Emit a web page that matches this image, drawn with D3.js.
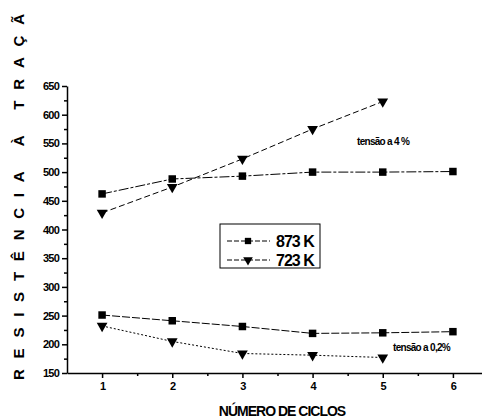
<!DOCTYPE html>
<html>
<head>
<meta charset="utf-8">
<script src="https://cdn.jsdelivr.net/npm/d3@7"></script>
<style>
  body { margin: 0; background: #fff; }
  text { font-family: "Liberation Sans", Arial, sans-serif; font-weight: bold; fill: #000; }
</style>
</head>
<body>
<div id="graph"></div>
<script>

//Chart data
var cycles = [1, 2, 3, 4, 5, 6];
var k873Strain4 = [462, 488, 493, 500, 500, 501];
var k723Strain4 = [429, 474, 523, 575, 623];
var k873Strain02 = [251, 241, 231, 219, 220, 222];
var k723Strain02 = [232, 205, 184, 181, 177];
var yTicks = [150, 200, 250, 300, 350, 400, 450, 500, 550, 600, 650];
var legendLabels = ['873 K', '723 K'];

var width = 482, height = 418;

var svg = d3.select('#graph')
    .append('svg')
    .attr('width', width)
    .attr('height', height);

//Scales
var x = d3.scaleLinear().domain([0.5, 6.5]).range([67, 488]);
var y = d3.scaleLinear().domain([150, 650]).range([373, 86]);

//Y axis with minor ticks
var yAxis = svg.append('g')
    .attr('transform', 'translate(67,0)')
    .call(d3.axisLeft(y).tickValues(yTicks).tickSize(5).tickSizeOuter(0).tickPadding(3));
svg.append('g')
    .attr('transform', 'translate(67,0)')
    .call(d3.axisLeft(y).tickValues(d3.range(175, 650, 50)).tickSize(3).tickFormat(''))
    .select('.domain').remove();

//X axis with minor ticks
var xAxis = svg.append('g')
    .attr('transform', 'translate(0,373)')
    .call(d3.axisBottom(x).tickValues(cycles).tickSize(5).tickSizeOuter(0).tickPadding(4).tickFormat(d3.format('d')));
svg.append('g')
    .attr('transform', 'translate(0,373)')
    .call(d3.axisBottom(x).tickValues([1.5, 2.5, 3.5, 4.5, 5.5]).tickSize(3).tickFormat(''))
    .select('.domain').remove();

svg.selectAll('.domain, .tick line').attr('stroke', '#000').attr('stroke-width', 1.5);
svg.selectAll('.tick text')
    .style('font-size', '11px')
    .style('letter-spacing', '-0.8px')
    .style('font-family', '"Liberation Sans", Arial, sans-serif')
    .style('font-weight', 'bold');

//Series definitions
var series = [
  { values: k873Strain4, marker: 'square', dash: '10,2,3,2' },
  { values: k723Strain4, marker: 'triangle', dash: '6,3' },
  { values: k873Strain02, marker: 'square', dash: '8,2' },
  { values: k723Strain02, marker: 'triangle', dash: '2,2' }
];

var line = d3.line()
    .x(function(d, i){ return x(cycles[i]); })
    .y(function(d){ return y(d); });

var squareSym = d3.symbol().type(d3.symbolSquare).size(56);
var triSym = d3.symbol().type(d3.symbolTriangle).size(50);

series.forEach(function(s){
  svg.append('path')
      .attr('d', line(s.values))
      .attr('fill', 'none')
      .attr('stroke', '#000')
      .attr('stroke-width', 1)
      .attr('stroke-dasharray', s.dash);

  svg.selectAll(null)
      .data(s.values)
      .enter()
      .append('path')
      .attr('d', s.marker === 'square' ? squareSym : triSym)
      .attr('fill', '#000')
      .attr('transform', function(d, i){
        var t = 'translate(' + x(cycles[i]) + ',' + y(d) + ')';
        return s.marker === 'triangle' ? t + ' rotate(180)' : t;
      });
});

//Legend
var legend = svg.append('g').attr('transform', 'translate(220,224)');
legend.append('rect')
    .attr('width', 100).attr('height', 44)
    .attr('fill', '#fff').attr('stroke', '#000').attr('stroke-width', 1);

legendLabels.forEach(function(lbl, i){
  var ly = 17 + i * 19;
  legend.append('line')
      .attr('x1', 7).attr('x2', 50).attr('y1', ly).attr('y2', ly)
      .attr('stroke', '#000').attr('stroke-width', 1)
      .attr('stroke-dasharray', '5,2');
  legend.append('path')
      .attr('d', i === 0 ? d3.symbol().type(d3.symbolSquare).size(40)() : d3.symbol().type(d3.symbolTriangle).size(40)())
      .attr('fill', '#000')
      .attr('transform', 'translate(28,' + ly + ')' + (i === 1 ? ' rotate(180)' : ''));
  legend.append('text')
      .attr('x', 56).attr('y', ly + 6)
      .style('font-size', '16px')
      .style('letter-spacing', '-1px')
      .text(lbl);
});

//Annotations
svg.append('text')
    .attr('x', 357).attr('y', 145)
    .style('font-size', '10px')
    .style('letter-spacing', '-0.7px')
    .text('tensão a 4 %');
svg.append('text')
    .attr('x', 393).attr('y', 351)
    .style('font-size', '10px')
    .style('letter-spacing', '-0.7px')
    .text('tensão a 0,2%');

//Axis titles
svg.append('text')
    .attr('x', 282).attr('y', 416)
    .attr('text-anchor', 'middle')
    .style('font-size', '14px')
    .style('letter-spacing', '-1px')
    .text('NÚMERO DE CICLOS');

svg.append('text')
    .attr('transform', 'translate(24,380) rotate(-90)')
    .attr('textLength', 366)
    .attr('lengthAdjust', 'spacing')
    .style('font-size', '15px')
    .text('RESISTÊNCIA À TRAÇÃ');

</script>
</body>
</html>
